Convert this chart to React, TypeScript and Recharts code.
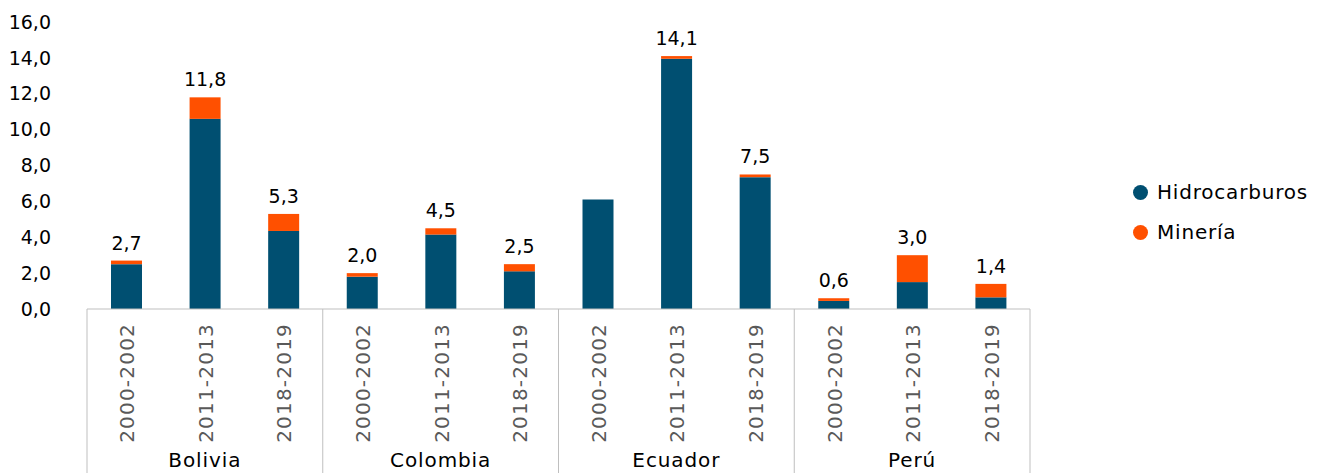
import React from 'react'
import { BarChart, Bar, XAxis, YAxis, Legend, LabelList } from 'recharts'

const countries = ['Bolivia', 'Colombia', 'Ecuador', 'Perú']
const periods = ['2000-2002', '2011-2013', '2018-2019']

// values per country, in period order
const hidrocarburos = [2.5, 10.6, 4.35, 1.8, 4.15, 2.1, 6.1, 13.95, 7.35, 0.45, 1.5, 0.65]
const mineria = [0.2, 1.2, 0.95, 0.2, 0.35, 0.4, 0, 0.15, 0.15, 0.15, 1.5, 0.75]
const totals = [2.7, 11.8, 5.3, 2.0, 4.5, 2.5, 6.1, 14.1, 7.5, 0.6, 3.0, 1.4]
const yTicks = [0, 2, 4, 6, 8, 10, 12, 14, 16]

const BLUE = '#004f71'
const ORANGE = '#ff5000'
const GRID = '#bfbfbf'
const FONT = '"DejaVu Sans", sans-serif'

const W = 1318
const H = 473
const MARGIN = { top: 22, right: 288, left: 0, bottom: 0 }
const Y_W = 87
const X_H = 164

const data = hidrocarburos.map((h, i) => ({
  key: `${countries[Math.floor(i / 3)]} ${periods[i % 3]}`,
  period: periods[i % 3],
  country: countries[Math.floor(i / 3)],
  hidrocarburos: h,
  mineria: mineria[i],
  total: totals[i]
}))

const fmt = (v: number) => Number(v).toFixed(1).replace('.', ',')

const PeriodTick = (props: any) => {
  const { x, y, index, payload } = props
  const band = (W - MARGIN.left - MARGIN.right - Y_W) / data.length
  const half = payload && payload.offset ? payload.offset : band / 2
  const row = data[index]
  return (
    <g>
      {index % 3 === 0 && (
        <line x1={x - half} x2={x - half} y1={y} y2={y + X_H} stroke={GRID} />
      )}
      {index === data.length - 1 && (
        <line x1={x + half} x2={x + half} y1={y} y2={y + X_H} stroke={GRID} />
      )}
      <text
        transform={`translate(${x + 1},${y + 14}) rotate(-90)`}
        textAnchor="end"
        dominantBaseline="central"
        fill="#595959"
        fontSize={20}
        letterSpacing={1.2}
      >
        {row.period}
      </text>
      {index % 3 === 1 && (
        <text x={x} y={y + 158} textAnchor="middle" fill="#000" fontSize={20} letterSpacing={0.9}>
          {row.country}
        </text>
      )}
    </g>
  )
}

const LegendContent = (props: any) => {
  const items = props.payload || []
  return (
    <div style={{ fontFamily: FONT, fontSize: 20, letterSpacing: 0.8, color: '#000' }}>
      {items.map((it: any) => (
        <div key={it.value} style={{ display: 'flex', alignItems: 'center', height: 40 }}>
          <span
            style={{
              width: 15,
              height: 15,
              borderRadius: '50%',
              background: it.color,
              display: 'inline-block',
              marginRight: 9
            }}
          />
          {it.value}
        </div>
      ))}
    </div>
  )
}

export default function App() {
  return (
    <div style={{ position: 'absolute', left: 0, top: 0, width: W, height: H, background: '#fff', fontFamily: FONT }}>
      <BarChart width={W} height={H} data={data} margin={MARGIN}>
        <XAxis
          dataKey="key"
          height={X_H}
          interval={0}
          tickLine={false}
          tickSize={0}
          tickMargin={0}
          axisLine={{ stroke: GRID }}
          tick={<PeriodTick />}
        />
        <YAxis
          width={Y_W}
          domain={[0, 16]}
          ticks={yTicks}
          axisLine={false}
          tickLine={false}
          tickSize={0}
          tickMargin={36}
          tickFormatter={fmt}
          tick={{ fill: '#000', fontSize: 19 }}
        />
        <Legend
          layout="vertical"
          align="center"
          verticalAlign="middle"
          content={<LegendContent />}
          wrapperStyle={{ left: 1133, top: 172, width: 'auto' }}
        />
        <Bar dataKey="hidrocarburos" name="Hidrocarburos" stackId="a" fill={BLUE} barSize={31} isAnimationActive={false} />
        <Bar dataKey="mineria" name="Minería" stackId="a" fill={ORANGE} barSize={31} isAnimationActive={false}>
          <LabelList dataKey="total" position="top" offset={11} fill="#000" fontSize={19} formatter={(v: any) => fmt(v)} />
        </Bar>
      </BarChart>
    </div>
  )
}
